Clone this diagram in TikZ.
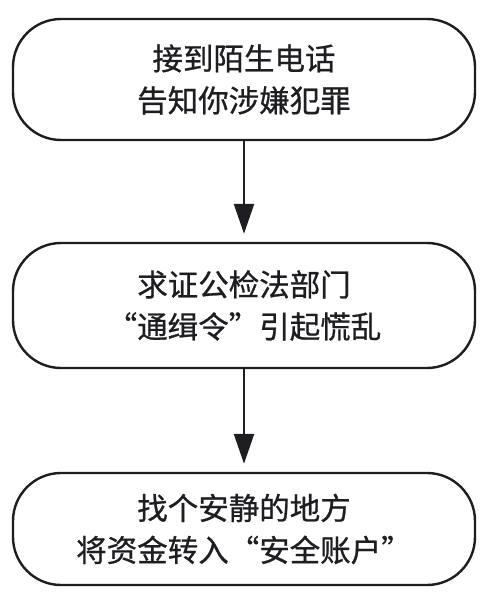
\documentclass[tikz,border=0pt]{standalone}
\usepackage{fontspec}
\setmainfont{Noto Sans CJK SC}[FakeBold=0.8]
\usetikzlibrary{arrows.meta}
\definecolor{ink}{HTML}{1E1E22}
\begin{document}
\begin{tikzpicture}[x=1pt,y=-1pt,
  box/.style={draw=ink, line width=2.4pt, rounded corners=48pt, minimum width=462pt,
    align=center, text=ink, inner sep=0pt, font=\fontsize{30.5}{42}\selectfont},
  flow/.style={draw=ink, line width=2.4pt, -{Triangle[length=30pt,width=20pt]}, shorten >=8pt}]
\fill[white] (0,0) rectangle (488,608);
\useasboundingbox (0,0) rectangle (488,608);
\node[box, minimum height=121pt] (b1) at (244,79.5) {接到陌生电话\\告知你涉嫌犯罪};
\node[box, minimum height=125pt] (b2) at (244,305.5) {求证公检法部门\\“通缉令”引起慌乱};
\node[box, minimum height=112pt] (b3) at (244,529) {找个安静的地方\\将资金转入“安全账户”};
\draw[flow] (b1) -- (b2);
\draw[flow] (b2) -- (b3);
\end{tikzpicture}
\end{document}
